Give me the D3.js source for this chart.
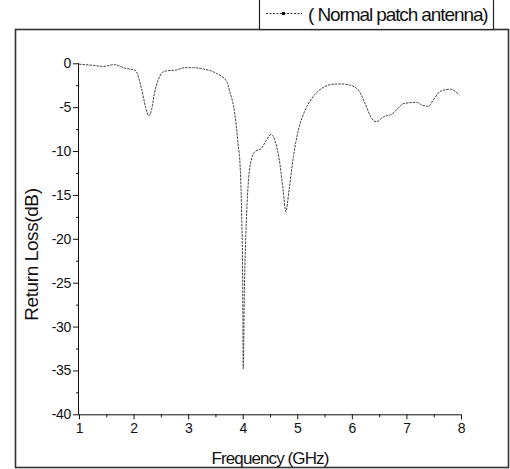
<!DOCTYPE html>
<html>
<head>
<meta charset="utf-8">
<script src="https://cdn.jsdelivr.net/npm/d3@7"></script>
<style>
  body { margin: 0; background: #fff; }
  svg { display: block; font-family: Arial, "Liberation Sans", sans-serif; }
  .axis path, .axis line { stroke: #111; }
  .axis text { font-size: 14px; fill: #111; letter-spacing: -0.3px; }
</style>
</head>
<body>
<div class="chart"></div>
<script>
//////////////////////////////////////////////////////////////
///////////////////////// Data ///////////////////////////////
//////////////////////////////////////////////////////////////

var seriesName = "( Normal patch antenna)";

// frequency in GHz
var freq = [1.00, 1.20, 1.45, 1.65, 1.84, 2.03, 2.15, 2.22, 2.28, 2.33, 2.38, 2.45, 2.57, 2.79, 2.94,
            3.10, 3.28, 3.52, 3.71, 3.77, 3.83, 3.88, 3.92, 3.95, 3.98, 4.00, 4.01, 4.03, 4.05, 4.08, 4.11,
            4.15, 4.22, 4.34, 4.44, 4.52, 4.59, 4.68, 4.74, 4.79, 4.85, 4.93, 5.02, 5.10, 5.17,
            5.29, 5.45, 5.63, 5.80, 5.97, 6.12, 6.24, 6.36, 6.45, 6.58, 6.73, 6.85, 6.94, 7.19,
            7.28, 7.40, 7.49, 7.62, 7.80, 7.97];

// return loss in dB
var returnLoss = [-0.1, -0.2, -0.35, -0.15, -0.55, -0.8, -3.0, -5.0, -6.0, -5.3, -3.5, -1.9, -0.9, -0.75, -0.5,
                  -0.5, -0.65, -1.15, -2.1, -3.4, -4.8, -7.0, -9.5, -11.4, -17.0, -25.0, -34.8, -26.0, -21.0, -16.0, -13.0,
                  -11.2, -10.1, -9.7, -8.7, -8.1, -8.8, -11.4, -14.4, -16.9, -14.4, -10.6, -7.6, -6.0, -5.0,
                  -3.8, -2.85, -2.4, -2.35, -2.5, -3.05, -4.55, -6.25, -6.65, -6.1, -5.8, -5.1, -4.6, -4.45,
                  -4.75, -4.9, -4.2, -3.2, -2.95, -3.6];

var xTicks = [1, 2, 3, 4, 5, 6, 7, 8];
var yTicks = [0, -5, -10, -15, -20, -25, -30, -35, -40];

var data = freq.map(function(f, i) { return {f: f, rl: returnLoss[i]}; });

//////////////////////////////////////////////////////////////
///////////////////// General settings ///////////////////////
//////////////////////////////////////////////////////////////

var totalWidth = 510;
var totalHeight = 469;
var margin = {top: 63.3, right: 49, bottom: 54.7, left: 79};
var width = totalWidth - margin.left - margin.right;
var height = totalHeight - margin.top - margin.bottom;

var svg = d3.select(".chart").append("svg")
    .attr("width", totalWidth)
    .attr("height", totalHeight);

//Outer frame
svg.append("rect")
    .attr("x", 15.5)
    .attr("y", 29.5)
    .attr("width", 493)
    .attr("height", 438)
    .attr("fill", "none")
    .attr("stroke", "#333")
    .attr("stroke-width", 1.6);

var g = svg.append("g")
    .attr("transform", "translate(" + margin.left + "," + margin.top + ")");

//////////////////////////////////////////////////////////////
///////////////////// Scales & Axes //////////////////////////
//////////////////////////////////////////////////////////////

var xScale = d3.scaleLinear().domain([1, 8]).range([0, width]);
var yScale = d3.scaleLinear().domain([-40, 0]).range([height, 0]);

var xAxis = d3.axisBottom(xScale)
    .tickValues(xTicks)
    .tickSize(5)
    .tickPadding(4)
    .tickFormat(function(d) { return String(d); });

var yAxis = d3.axisLeft(yScale)
    .tickValues(yTicks)
    .tickSize(6)
    .tickPadding(2)
    .tickFormat(function(d) { return String(d); });

//minor ticks
g.append("g")
    .attr("class", "axis")
    .attr("transform", "translate(0," + height + ")")
    .call(d3.axisBottom(xScale).tickValues(d3.range(1.5, 8, 1)).tickSize(3).tickFormat(""))
    .select(".domain").remove();

g.append("g")
    .attr("class", "axis")
    .call(d3.axisLeft(yScale).tickValues(d3.range(-37.5, 0, 5)).tickSize(3).tickFormat(""))
    .select(".domain").remove();

g.append("g")
    .attr("class", "x axis")
    .attr("transform", "translate(0," + height + ")")
    .call(xAxis)
    .call(function(a) { a.select(".domain").attr("d", "M0,0.5H" + width); });

g.append("g")
    .attr("class", "y axis")
    .call(yAxis)
    .call(function(a) { a.select(".domain").attr("d", "M-0.5," + height + "V0"); });

//Axis titles
g.append("text")
    .attr("x", xScale(4.5))
    .attr("y", height + 50)
    .attr("text-anchor", "middle")
    .style("font-size", "17px")
    .style("letter-spacing", "-0.9px")
    .attr("fill", "#111")
    .text("Frequency (GHz)");

g.append("text")
    .attr("transform", "translate(-41," + yScale(-21.8) + ") rotate(-90)")
    .attr("text-anchor", "middle")
    .style("font-size", "19px")
    .style("letter-spacing", "-0.4px")
    .attr("fill", "#111")
    .text("Return Loss(dB)");

//////////////////////////////////////////////////////////////
//////////////////////// Curve ///////////////////////////////
//////////////////////////////////////////////////////////////

var line = d3.line()
    .x(function(d) { return xScale(d.f); })
    .y(function(d) { return yScale(d.rl); })
    .curve(d3.curveMonotoneX);

g.append("path")
    .datum(data)
    .attr("d", line)
    .attr("fill", "none")
    .attr("stroke", "#444")
    .attr("stroke-width", 1)
    .attr("stroke-dasharray", "2.5,1");

//////////////////////////////////////////////////////////////
//////////////////////// Legend //////////////////////////////
//////////////////////////////////////////////////////////////

var legend = svg.append("g").attr("class", "legend");

legend.append("rect")
    .attr("x", 259.5)
    .attr("y", -5)
    .attr("width", 234)
    .attr("height", 34.5)
    .attr("fill", "#fff")
    .attr("stroke", "#222")
    .attr("stroke-width", 1.2);

legend.append("line")
    .attr("x1", 266).attr("x2", 302)
    .attr("y1", 13.5).attr("y2", 13.5)
    .attr("stroke", "#333")
    .attr("stroke-dasharray", "2,1.5");

legend.append("rect")
    .attr("x", 282).attr("y", 12)
    .attr("width", 3).attr("height", 3)
    .attr("fill", "#111");

legend.append("text")
    .attr("x", 308)
    .attr("y", 21)
    .style("font-size", "19px")
    .style("letter-spacing", "-1.1px")
    .attr("fill", "#111")
    .text(seriesName);
</script>
</body>
</html>
